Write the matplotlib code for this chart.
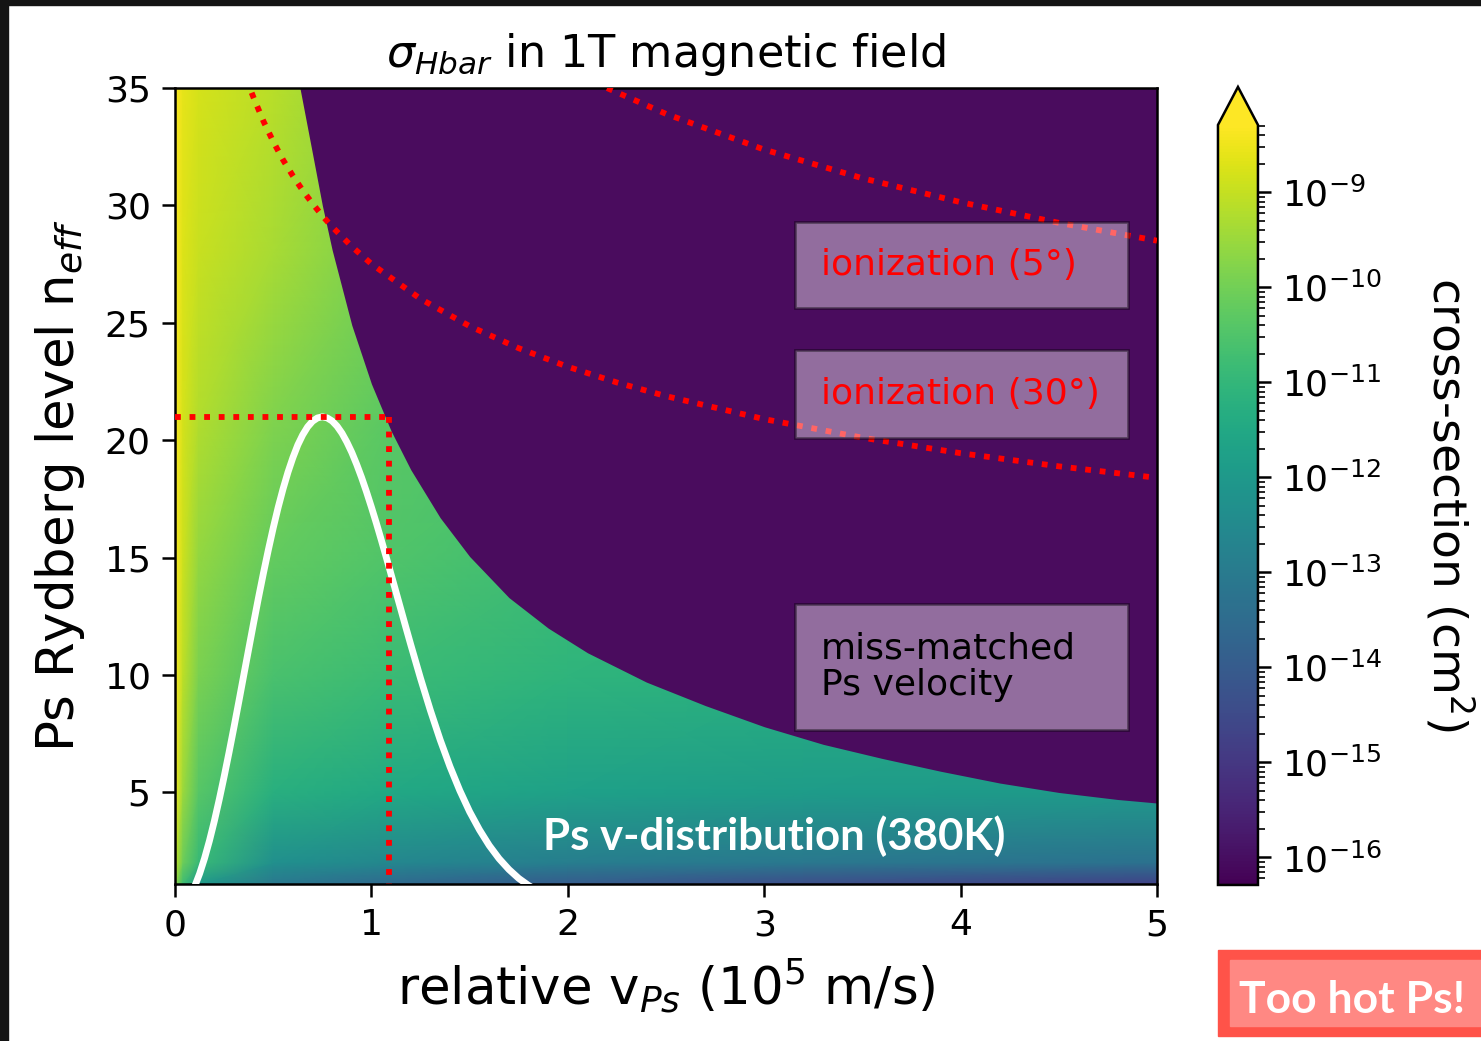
import matplotlib
matplotlib.use('Agg')
import matplotlib.pyplot as plt
from matplotlib.colors import LogNorm
from matplotlib.patches import Rectangle
import numpy as np

# log10 cross-section, on a coarse (v, n) grid
v_grid = [0.0, 0.04, 0.12, 0.5, 1.1, 2.0, 3.2, 5.0]
n_grid = [1.1, 2, 5, 10, 15, 21, 28, 35]
log_sigma = [
    [-9.6, -10.8, -12.0, -13.1, -13.6, -14.0, -14.4, -14.7],
    [-9.0, -10.1, -10.9, -12.3, -12.6, -12.9, -13.1, -13.3],
    [-8.4, -9.5, -10.4, -11.25, -11.5, -11.75, -11.9, -12.0],
    [-8.1, -9.1, -9.9, -10.6, -10.85, -11.1, -11.2, -11.3],
    [-8.0, -8.9, -9.6, -10.2, -10.5, -10.8, -10.9, -11.0],
    [-7.9, -8.8, -9.2, -9.8, -10.35, -10.5, -10.6, -10.7],
    [-7.8, -8.7, -8.95, -9.35, -10.0, -10.2, -10.3, -10.4],
    [-7.7, -8.6, -8.8, -9.15, -9.8, -10.0, -10.1, -10.2],
]

# edge of the "no capture" region (dark purple above it)
edge_v = [0.636, 0.70, 0.75, 0.80, 0.90, 1.00, 1.10, 1.20, 1.35, 1.50, 1.70, 1.90, 2.10, 2.40,
          2.70, 3.00, 3.30, 3.60, 3.90, 4.20, 4.50, 4.80, 5.00]
edge_n = [35.0, 32.2, 30.0, 28.1, 24.9, 22.4, 20.4, 18.75, 16.7, 15.05, 13.3, 12.0, 10.95, 9.7,
          8.7, 7.8, 7.05, 6.45, 5.9, 5.4, 5.0, 4.7, 4.55]

# Ps velocity distribution (380K), drawn scaled into n units
dist_v = [0.09, 0.10, 0.125, 0.15, 0.175, 0.20, 0.225, 0.25, 0.275, 0.30, 0.325, 0.35, 0.375, 0.40,
          0.425, 0.45, 0.475, 0.50, 0.525, 0.55, 0.575, 0.60, 0.625, 0.65, 0.675, 0.70, 0.725, 0.75,
          0.775, 0.80, 0.825, 0.85, 0.875, 0.90, 0.925, 0.95, 0.975, 1.00, 1.025, 1.05, 1.075, 1.10,
          1.125, 1.15, 1.175, 1.20, 1.25, 1.30, 1.35, 1.40, 1.45, 1.50, 1.55, 1.60, 1.65, 1.70,
          1.75, 1.80, 1.85]
dist_n = [0.85, 1.00, 1.54, 2.19, 2.94, 3.78, 4.70, 5.68, 6.71, 7.78, 8.88, 10.0, 11.11, 12.22,
          13.30, 14.34, 15.33, 16.27, 17.14, 17.93, 18.64, 19.26, 19.80, 20.23, 20.57, 20.81, 20.95, 21.0,
          20.95, 20.82, 20.60, 20.30, 19.92, 19.48, 18.97, 18.41, 17.80, 17.15, 16.47, 15.76, 15.03, 14.29,
          13.54, 12.79, 12.04, 11.30, 9.86, 8.50, 7.24, 6.10, 5.08, 4.18, 3.41, 2.74, 2.18, 1.72,
          1.34, 1.04, 0.79]

# ionization limits
ion5_v = [0.39, 0.4, 0.45, 0.5, 0.55, 0.6, 0.65, 0.7, 0.75, 0.8, 0.9, 1.0, 1.25, 1.5, 1.75, 2.0,
          2.25, 2.5, 3.0, 3.5, 4.0, 4.5, 5.0]
ion5_n = [34.8, 34.59, 33.59, 32.72, 31.94, 31.26, 30.64, 30.08, 29.56, 29.09, 28.25, 27.51, 26.02,
          24.86, 23.92, 23.13, 22.46, 21.88, 20.90, 20.11, 19.45, 18.89, 18.40]
ion30_v = [2.2, 2.5, 3.0, 3.5, 4.0, 4.5, 5.0]
ion30_n = [35.0, 33.9, 32.38, 31.16, 30.14, 29.26, 28.50]

peak_v, peak_n = 1.09, 21.0

purple = '#4a0c5e'

fig = plt.figure(figsize=(14.81, 10.41), dpi=100)
ax = fig.add_axes([0.1182, 0.1508, 0.6630, 0.7646])
cax = fig.add_axes([0.8224, 0.1499, 0.0270, 0.7666])

V, N = np.meshgrid(v_grid, n_grid)
mesh = ax.pcolormesh(V, N, 10.0 ** np.array(log_sigma), shading='gouraud', cmap='viridis',
                     norm=LogNorm(vmin=10**-16.29, vmax=10**-8.29), zorder=1)
ax.fill_between(edge_v + [5.2], edge_n + [edge_n[-1]], 40, color=purple, lw=0, zorder=2)

dots = dict(color='red', lw=4.2, dashes=(1, 1.5), dash_capstyle='butt', zorder=4)
ax.plot(ion5_v, ion5_n, **dots)
ax.plot(ion30_v, ion30_n, **dots)
ax.plot([0, peak_v], [peak_n, peak_n], **dots)
ax.plot([peak_v, peak_v], [peak_n, 1.1], **dots)
ax.plot(dist_v, dist_n, color='white', lw=4.9, zorder=3)

box = dict(facecolor='white', edgecolor='black', alpha=0.4, lw=2, zorder=5)
ax.add_patch(Rectangle((3.157, 25.63), 1.695, 3.66, **box))
ax.add_patch(Rectangle((3.157, 20.09), 1.695, 3.75, **box))
ax.add_patch(Rectangle((3.157, 7.66), 1.695, 5.36, **box))
ax.text(3.29, 27.45, 'ionization (5°)', color='red', fontsize=26, va='center', zorder=6)
ax.text(3.29, 21.95, 'ionization (30°)', color='red', fontsize=26, va='center', zorder=6)
ax.text(3.29, 10.35, 'miss-matched\nPs velocity', color='black', fontsize=26, va='center',
        linespacing=1.12, zorder=6)
ax.text(1.874, 3.14, 'Ps v-distribution (380K)', color='white', fontsize=31.5, fontweight='bold',
        family='Lato', va='center', zorder=6)

ax.set_xlim(0, 5)
ax.set_ylim(1.1, 35)
ax.set_xticks([0, 1, 2, 3, 4, 5])
ax.set_yticks([5, 10, 15, 20, 25, 30, 35])
ax.tick_params(labelsize=26, length=9.5, width=1.8, pad=8)
for s in ax.spines.values():
    s.set_linewidth(1.8)
ax.set_xlabel('relative v$_{Ps}$ (10$^5$ m/s)', fontsize=37, labelpad=10)
ax.set_ylabel('Ps Rydberg level n$_{eff}$', fontsize=37, labelpad=13)
ax.set_title(r'$\sigma_{Hbar}$ in 1T magnetic field', fontsize=32, pad=15)

cb = fig.colorbar(mesh, cax=cax, extend='max')
cb.outline.set_linewidth(1.8)
cax.tick_params(which='major', labelsize=26, length=9.5, width=1.8, pad=8)
cax.tick_params(which='minor', length=5, width=1.2)
cb.set_label('cross-section (cm$^2$)', fontsize=34, rotation=270, labelpad=67)

# slide decoration
fig.add_artist(Rectangle((0, 0), 8 / 1481, 1, transform=fig.transFigure, color='#141414', zorder=0))
fig.add_artist(Rectangle((0, 1 - 5 / 1041), 1, 5 / 1041, transform=fig.transFigure, color='#141414', zorder=0))
fig.add_artist(Rectangle((0.8224, 0.0045), 0.1776, 0.0829, transform=fig.transFigure, color='#ff5349'))
fig.add_artist(Rectangle((0.8305, 0.0140), 0.1695, 0.0637, transform=fig.transFigure, color='#ff8883'))
fig.text(0.913, 0.0394, 'Too hot Ps!', color='white', fontsize=32, fontweight='bold',
         family='Lato', ha='center', va='center')

fig.savefig('out.png', dpi=100)
